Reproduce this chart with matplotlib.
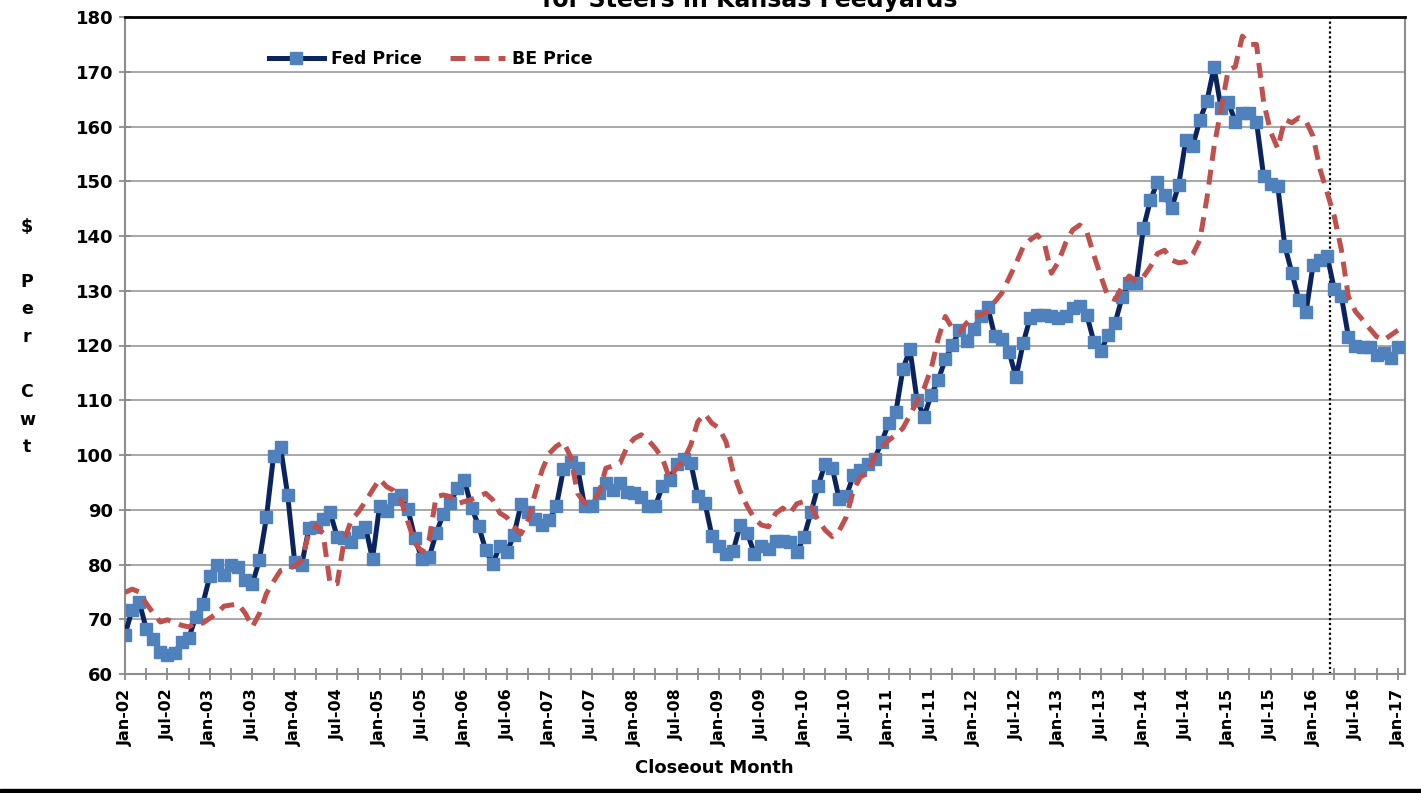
import numpy as np
import pandas as pd
import matplotlib
matplotlib.use("Agg")
import matplotlib.pyplot as plt
from matplotlib.ticker import MultipleLocator

# monthly closeout, Jan-02 .. Jan-17
months = pd.date_range("2002-01-01", periods=181, freq="MS")
month_labels = [d.strftime("%b-%y") for d in months]

fed_price = [
    67.2, 71.7, 73.2, 68.3, 66.4, 64.1, 63.5, 63.8, 65.9, 66.5, 70.4, 72.8,
    77.9, 80.0, 78.1, 80.0, 79.6, 77.2, 76.4, 80.8, 88.6, 99.8, 101.4, 92.7,
    80.4, 80.0, 86.6, 86.8, 88.3, 89.5, 85.1, 84.8, 84.2, 86.0, 86.9, 81.0,
    90.7, 89.8, 91.9, 92.7, 90.1, 84.8, 81.0, 81.3, 85.7, 89.2, 91.2, 94.0,
    95.4, 90.4, 87.1, 82.6, 80.1, 83.4, 82.2, 85.4, 91.0, 89.6, 88.3, 87.2,
    88.1, 90.7, 97.4, 98.7, 97.7, 90.6, 90.7, 93.0, 94.9, 93.6, 94.9, 93.3,
    93.0, 92.3, 90.7, 90.7, 94.3, 95.4, 98.4, 99.2, 98.6, 92.5, 91.3, 85.2,
    83.4, 82.0, 82.5, 87.2, 85.7, 82.0, 83.3, 82.8, 84.3, 84.3, 84.2, 82.2,
    85.0, 89.5, 94.3, 98.4, 97.7, 91.9, 92.5, 96.3, 97.3, 98.3, 99.3, 102.4,
    105.8, 107.8, 115.7, 119.3, 110.0, 107.0, 111.0, 113.7, 117.5, 120.1, 122.8, 120.9,
    123.0, 125.4, 127.0, 121.7, 121.2, 118.9, 114.2, 120.4, 125.1, 125.6, 125.6, 125.3,
    125.0, 125.4, 126.8, 127.2, 125.6, 120.7, 119.0, 121.9, 124.1, 128.8, 131.5, 131.5,
    141.4, 146.5, 149.9, 147.4, 145.1, 149.3, 157.5, 156.5, 161.2, 164.7, 170.8, 163.3,
    164.5, 160.9, 162.4, 162.4, 160.9, 151.0, 149.5, 149.2, 138.2, 133.3, 128.3, 126.1,
    134.7, 135.7, 136.3, 130.3, 129.0, 121.6, 119.9, 119.7, 119.7, 118.3, 118.7, 117.8,
    119.7,
]

be_price = [
    74.9, 75.5, 75.0, 72.9, 71.1, 69.5, 69.9, 69.4, 68.9, 68.6, 69.4, 69.3,
    70.2, 71.1, 72.4, 72.6, 72.8, 71.1, 68.6, 71.0, 74.7, 76.9, 78.9, 79.3,
    79.7, 80.8, 85.7, 87.2, 85.7, 76.5, 76.5, 84.5, 88.1, 89.6, 91.5, 93.6,
    95.6, 94.2, 93.5, 91.8, 87.8, 83.9, 82.3, 84.5, 92.4, 92.7, 92.4, 91.1,
    91.5, 91.9, 92.4, 93.0, 91.8, 89.4, 88.6, 86.9, 85.6, 88.1, 93.0, 97.3,
    100.3, 101.6, 102.4, 99.7, 93.0, 91.2, 91.3, 93.0, 97.6, 98.0, 98.5, 101.5,
    103.0, 103.7, 102.7, 101.2, 99.4, 95.7, 97.6, 99.1, 101.8, 106.1, 107.5, 105.8,
    104.9, 102.4, 96.9, 93.3, 90.6, 88.4, 87.2, 86.9, 89.3, 90.3, 89.3, 91.1,
    91.5, 90.6, 88.1, 86.3, 85.1, 86.2, 88.7, 93.6, 96.0, 96.7, 99.7, 101.5,
    102.7, 103.7, 104.9, 107.3, 109.8, 112.2, 115.8, 121.3, 125.3, 123.1, 122.5, 124.1,
    125.3, 125.6, 126.2, 128.0, 129.6, 132.3, 135.0, 138.0, 139.3, 140.2, 138.7, 133.2,
    135.3, 138.7, 141.1, 142.0, 140.8, 136.5, 132.6, 128.9, 128.4, 130.7, 132.7, 131.7,
    132.5, 134.4, 136.8, 137.4, 135.6, 135.1, 135.3, 136.7, 139.3, 147.0, 156.3, 163.3,
    170.3, 170.9, 176.5, 175.0, 175.0, 164.5, 159.0, 156.0, 161.3, 160.7, 161.6, 161.0,
    158.2, 152.1, 147.9, 143.6, 137.5, 128.9, 126.2, 124.7, 123.1, 121.6, 121.0, 121.9,
    122.8,
]

forecast_start = 170.4  # dotted divider, around Mar-16

navy = "#0B2460"
blue = "#4F81BD"
red = "#C0504D"
grey = "#8C8C8C"

x = np.arange(len(months))

fig = plt.figure(figsize=(14.21, 7.93), dpi=100)
ax = fig.add_axes([125 / 1421, 1 - 674 / 793, 1280 / 1421, 657 / 793])

ax.plot(x, fed_price, color=navy, lw=3.6, marker="s", ms=8.5,
        mfc=blue, mec=blue, label="Fed Price", zorder=3)
ax.plot(x, be_price, color=red, lw=3.6, ls=(0, (3.0, 1.8)),
        label="BE Price", zorder=4)
ax.axvline(forecast_start, color="black", lw=1.6, ls=(0, (1, 1.2)), zorder=2)

ax.set_xlim(0, 181)
ax.set_ylim(60, 180)
ax.yaxis.set_major_locator(MultipleLocator(10))
ax.grid(axis="y", color="#A0A0A0", lw=1.3, zorder=1)
ax.set_axisbelow(True)

ax.set_xticks(x[::6])
ax.set_xticklabels(month_labels[::6], rotation=90, fontsize=11.5,
                   fontweight="bold")
ax.set_xticks(x[3::6], minor=True)
ax.tick_params(axis="x", which="both", direction="inout", length=9,
               width=1.3, color=grey, pad=6)
ax.tick_params(axis="y", direction="inout", length=9, width=1.3,
               color=grey, pad=4, labelsize=13)
for lab in ax.get_yticklabels():
    lab.set_fontweight("bold")

for side in ["left", "right", "bottom"]:
    ax.spines[side].set_color(grey)
    ax.spines[side].set_linewidth(1.5)
ax.spines["top"].set_color("black")
ax.spines["top"].set_linewidth(2)

leg = ax.legend(loc="upper left", bbox_to_anchor=(0.100, 0.974), ncol=2,
                frameon=False, handlelength=3.2, columnspacing=1.6,
                handletextpad=0.4, markerscale=1.0,
                prop={"weight": "bold", "size": 12.5})

fig.text(714 / 1421, 1 - 768 / 793, "Closeout Month", ha="center",
         va="center", fontsize=13, fontweight="bold")
fig.text(27 / 1421, 1 - 337 / 793, "$\n\nP\ne\nr\n\nC\nw\nt", ha="center",
         va="center", fontsize=12.5, fontweight="bold", linespacing=1.68)
fig.text(750 / 1421, 1 - 7 / 793, "for Steers in Kansas Feedyards",
         ha="center", va="baseline", fontsize=17, fontweight="bold")

# black rule along the bottom edge
fig.patches.append(plt.Rectangle((0, 0), 1, 4 / 793, transform=fig.transFigure,
                                 color="black", zorder=10))

fig.savefig("out.png", dpi=100)
